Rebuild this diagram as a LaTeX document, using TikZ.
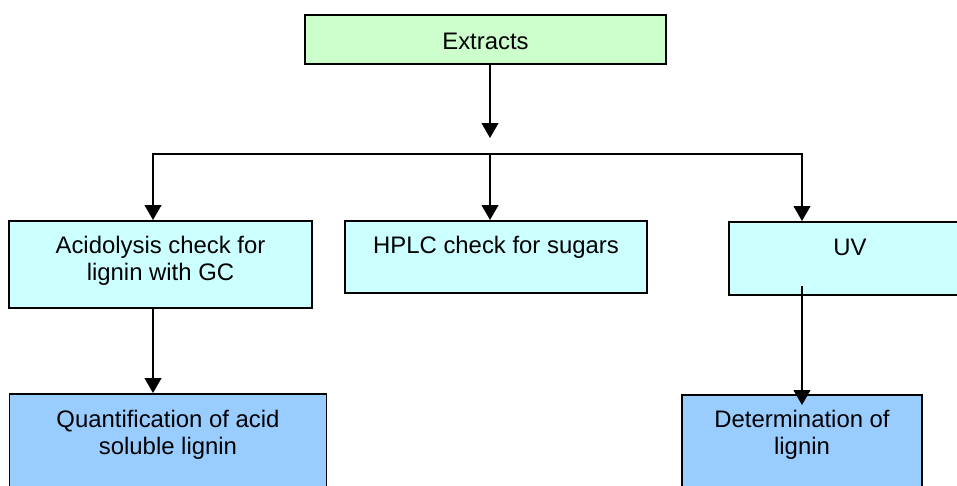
\documentclass[tikz,border=0pt]{standalone}
\usepackage{fontspec}
\setmainfont{Liberation Sans}
\usetikzlibrary{arrows.meta}

\definecolor{extgreen}{HTML}{CCFFCC}
\definecolor{checkcyan}{HTML}{CCFFFF}
\definecolor{resblue}{HTML}{99CCFF}

\begin{document}
\begin{tikzpicture}[x=0.02cm, y=-0.02cm,
        box/.style={draw, line width=1.1pt, inner sep=0pt, align=center, anchor=north,
            font=\fontsize{13.6pt}{15.4pt}\selectfont},
        arr/.style={line width=1.1pt, -{Triangle[length=8.5pt, width=9.5pt]}}]
    \useasboundingbox (0,0) rectangle (957,485);
    \clip (0,0) rectangle (957,485);

    \node[box, fill=extgreen, minimum width=7.22cm, text height=0.686cm, text depth=0.294cm]
        (ext) at (485.5,14) {Extracts};
    \node[box, fill=checkcyan, minimum width=6.06cm, text height=1.2cm, text depth=0.54cm]
        (acid) at (160.5,220) {Acidolysis check for\\lignin with GC};
    \node[box, fill=checkcyan, minimum width=6.04cm, text height=0.654cm, text depth=0.786cm]
        (hplc) at (496,220) {HPLC check for sugars};
    \node[box, fill=checkcyan, minimum width=4.84cm, text height=0.68cm, text depth=0.78cm]
        (uv) at (850,221) {UV};
    \node[box, fill=resblue, minimum width=6.34cm, text height=1.214cm, text depth=0.92cm]
        (quant) at (168,393) {Quantification of acid\\soluble lignin};
    \node[box, fill=resblue, minimum width=4.8cm, text height=1.194cm, text depth=0.92cm]
        (det) at (802,394) {Determination of\\lignin};

    \coordinate (drop) at (490,138);
    \coordinate (barl) at (153,154);
    \coordinate (barm) at (490,154);
    \coordinate (barr) at (802,154);
    \coordinate (uvout) at (802,286);

    \draw[arr] (ext.south -| drop) -- (drop);
    \draw[line width=1.1pt, line cap=rect] (barl) -- (barr);
    \draw[arr] (barl) -- (barl |- acid.north);
    \draw[arr] (barm) -- (barm |- hplc.north);
    \draw[arr] (barr) -- (barr |- uv.north);
    \draw[arr] (acid.south -| barl) -- (barl |- quant.north);
    \draw[arr] (uvout) -- ([yshift=-0.22cm]det.north);
\end{tikzpicture}
\end{document}
